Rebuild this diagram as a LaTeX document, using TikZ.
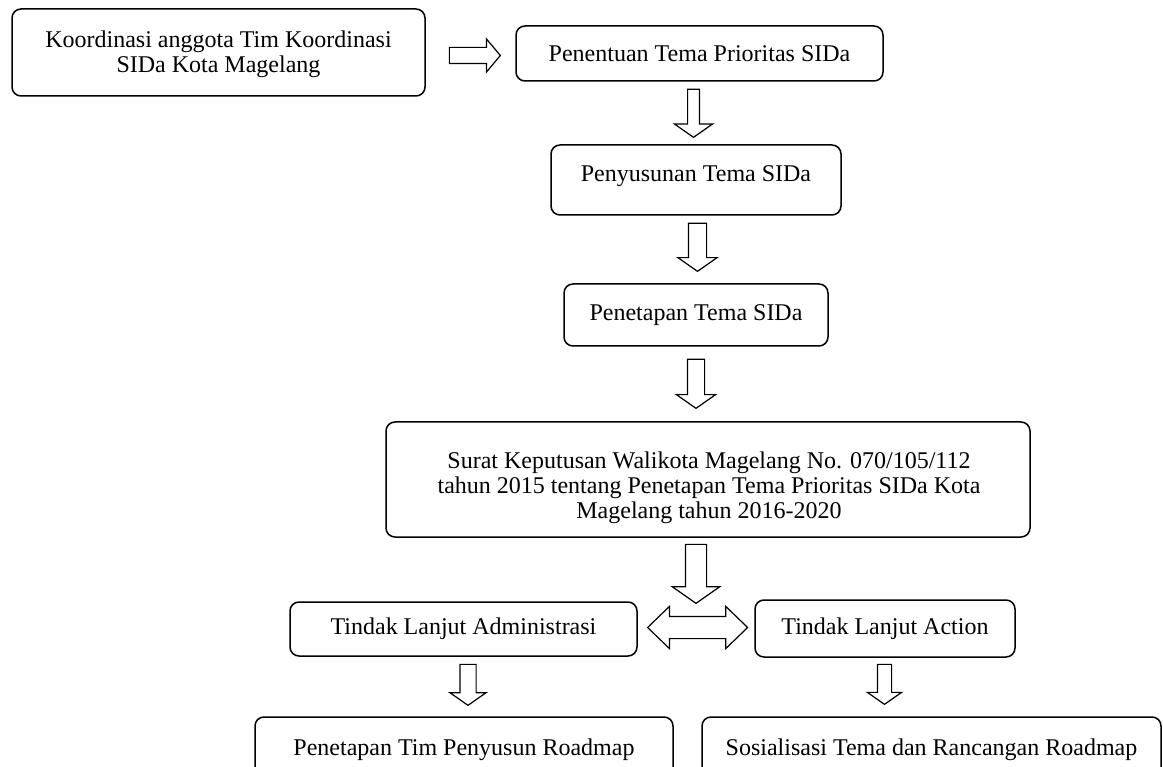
\documentclass[tikz,border=0pt]{standalone}
\usepackage{fontspec}
\setmainfont{Liberation Serif}
\usetikzlibrary{shapes.arrows,calc}

\tikzset{
  tahap/.style={draw, line width=1.5pt, rounded corners=9pt, align=center,
    inner sep=3pt, font=\fontsize{24}{25}\selectfont},
  teks/.style={inner sep=0pt, align=center},
  panah/.style={single arrow, draw, line width=1.2pt, inner sep=0pt,
    single arrow tip angle=110, anchor=tail},
  panahbawah/.style={panah, shape border rotate=270, inner ysep=0pt},
  panahdua/.style={double arrow, draw, line width=1.2pt, inner sep=0pt,
    double arrow tip angle=88, anchor=tip 2}
}

\begin{document}
\begin{tikzpicture}[x=1pt,y=-1pt]
\useasboundingbox (0,0) rectangle (1163,767);
\clip (0,0) rectangle (1163,767);

% kotak tahapan
\node[tahap, minimum width=413, minimum height=87] (koordinasi) at (218.5,52.5) {};
\node[tahap, draw=none, font=\fontsize{24}{25}\selectfont, teks] (koordinasi-teks) at (218.5,54)
  {Koordinasi anggota Tim Koordinasi\\SIDa Kota Magelang};
\node[tahap, minimum width=367, minimum height=55] (prioritas) at (699.5,53.5)
  {Penentuan Tema Prioritas SIDa};
\node[tahap, minimum width=290, minimum height=70, text depth=12pt] (penyusunan) at (696,180)
  {Penyusunan Tema SIDa};
\node[tahap, minimum width=264, minimum height=62] (penetapan) at (696,315)
  {Penetapan Tema SIDa};
\node[tahap, minimum width=644, minimum height=115] (sk) at (708,479.5) {};
\node[tahap, draw=none, font=\fontsize{24}{25}\selectfont, teks] (sk-teks) at (709,488)
  {Surat Keputusan Walikota Magelang No. 070/105/112\\
   tahun 2015 tentang Penetapan Tema Prioritas SIDa Kota\\
   Magelang tahun 2016-2020};
\node[tahap, minimum width=347, minimum height=54] (admin) at (463.5,629)
  {Tindak Lanjut Administrasi};
\node[tahap, minimum width=260, minimum height=57] (action) at (885,628.5)
  {Tindak Lanjut Action};
\node[tahap, minimum width=418, minimum height=66] (timroadmap) at (464,750)
  {Penetapan Tim Penyusun Roadmap};
\node[tahap, minimum width=459, minimum height=66] (sosialisasi) at (931.5,750)
  {Sosialisasi Tema dan Rancangan Roadmap};

% panah blok
\node[panah, single arrow tip angle=100, minimum height=51, inner ysep=7.5, single arrow head extend=8.5]
  (p1) at ($(koordinasi.east)+(23,3)$) {};
\node[panahbawah, minimum height=48, inner xsep=5.3, single arrow head extend=13.2]
  (p2) at ($(prioritas.south)+(-6,7)$) {};
\node[panahbawah, minimum height=48, inner xsep=8.5, single arrow head extend=10.5]
  (p3) at ($(penyusunan.south)+(1.5,7)$) {};
\node[panahbawah, minimum height=49, inner xsep=8, single arrow head extend=11]
  (p4) at ($(penetapan.south)+(0,12)$) {};
\node[panahbawah, minimum height=59, inner xsep=10, single arrow head extend=13]
  (p5) at ($(sk.south)+(-12,6)$) {};
\node[panahdua, minimum height=100, inner ysep=10.5, double arrow head extend=10]
  (p6) at ($(admin.east)+(9,-1.5)$) {};
\node[panahbawah, minimum height=41, inner xsep=7.5, single arrow head extend=10]
  (p7) at ($(admin.south)+(4.5,7)$) {};
\node[panahbawah, minimum height=40, inner xsep=6.5, single arrow head extend=10]
  (p8) at ($(action.south)+(-0.5,6)$) {};
\end{tikzpicture}
\end{document}
